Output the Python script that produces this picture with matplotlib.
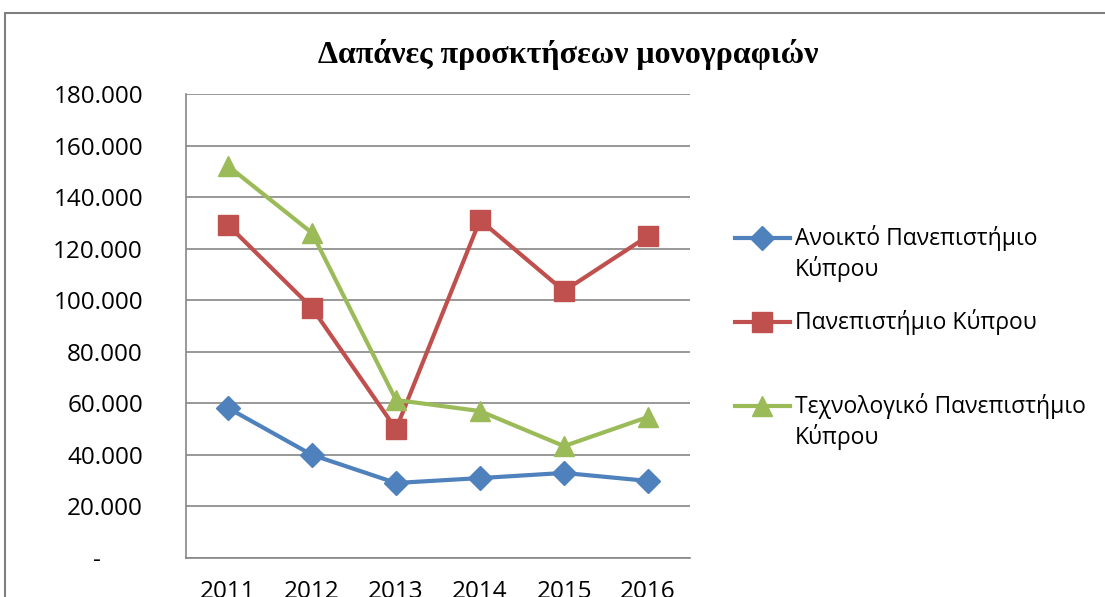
import matplotlib.pyplot as plt
from matplotlib.lines import Line2D
from matplotlib.patches import Rectangle

years = ["2011", "2012", "2013", "2014", "2015", "2016"]
ouc = [58200, 40000, 29100, 31000, 33000, 29900]
ucy = [129200, 97000, 50000, 131100, 103600, 124900]
cut = [152100, 126100, 61300, 57000, 43400, 54700]

names = ["Ανοικτό Πανεπιστήμιο\nΚύπρου", "Πανεπιστήμιο Κύπρου",
         "Τεχνολογικό Πανεπιστήμιο\nΚύπρου"]
colors = ["#4F81BD", "#C0504D", "#9BBB59"]
markers = ["D", "s", "^"]
msizes = [12, 14, 14]
yticks = list(range(0, 180001, 20000))

plt.rcParams['font.family'] = ['Open Sans', 'DejaVu Sans']

fig = plt.figure(figsize=(11.05, 5.97), dpi=100)
ax = fig.add_axes([186 / 1105, 1 - 558 / 597, 504 / 1105, 464 / 597])

x = list(range(len(years)))
for vals, c, m, ms in zip([ouc, ucy, cut], colors, markers, msizes):
    ax.plot(x, vals, color=c, lw=3, marker=m, markersize=ms, zorder=3)

ax.set_xlim(-0.5, len(years) - 0.5)
ax.set_ylim(0, 180000)
ax.set_xticks(x, years)


def fmt(v):
    if v == 0:
        return "-\u2007\u2007\u2007"
    return f"{v:,}".replace(",", ".")


ax.set_yticks(yticks, [fmt(v) for v in yticks])
ax.tick_params(axis='y', length=0, pad=31, labelsize=17.5)
ax.tick_params(axis='x', length=0, pad=16, labelsize=17.5)
ax.grid(axis='y', color='#868686', lw=1.2)
ax.set_axisbelow(True)
for s in ['top', 'right']:
    ax.spines[s].set_visible(False)
for s in ['left', 'bottom']:
    ax.spines[s].set_color('#868686')
    ax.spines[s].set_linewidth(1.2)

fig.text(568 / 1105, 1 - 55 / 597, "Δαπάνες προσκτήσεων μονογραφιών",
         ha='center', va='center', fontsize=23, fontweight='bold',
         family=['Liberation Serif', 'DejaVu Serif'])

# legend drawn by hand so the marker sits on the first text line
leg_y = [238, 322, 406]
for name, c, m, ms, yy in zip(names, colors, markers, msizes, leg_y):
    fy = 1 - yy / 597
    fig.add_artist(Line2D([735 / 1105, 762 / 1105, 790 / 1105], [fy, fy, fy],
                          transform=fig.transFigure, color=c, lw=3,
                          marker=m, markersize=ms, markevery=[1]))
    for i, line in enumerate(name.split("\n")):
        fig.text(795 / 1105, 1 - (yy + i * 31) / 597, line, ha='left',
                 va='center', fontsize=16.5)

fig.add_artist(Rectangle((5 / 1105, -0.2), 1.2, 1.2 - 13 / 597,
                         transform=fig.transFigure, fill=False,
                         edgecolor='#7f7f7f', lw=1.5))

fig.savefig("out.png", dpi=100)
